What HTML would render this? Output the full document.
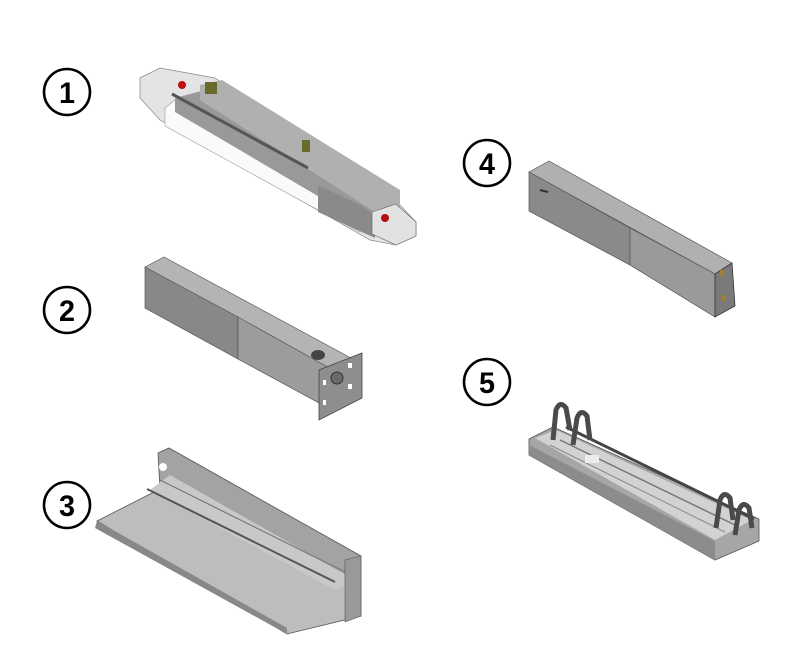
<!DOCTYPE html>
<html><head><style>
html,body{margin:0;padding:0;background:#fff;width:800px;height:650px;overflow:hidden}
svg{display:block}
</style></head><body>
<svg width="800" height="650" viewBox="0 0 800 650">
<g fill="#fff" stroke="#000" stroke-width="2.6">
<circle cx="67" cy="92" r="23"/><circle cx="67" cy="310" r="23"/><circle cx="67" cy="505" r="23"/>
<circle cx="487" cy="163" r="23"/><circle cx="487" cy="382" r="23"/>
</g>
<g font-family="'Liberation Sans Narrow','Liberation Sans',sans-serif" font-size="30" font-weight="bold" text-anchor="middle">
<text x="67" y="103" textLength="16" lengthAdjust="spacingAndGlyphs">1</text>
<text x="67" y="321" textLength="16" lengthAdjust="spacingAndGlyphs">2</text>
<text x="67" y="516" textLength="16" lengthAdjust="spacingAndGlyphs">3</text>
<text x="487" y="174" textLength="16" lengthAdjust="spacingAndGlyphs">4</text>
<text x="487" y="393" textLength="16" lengthAdjust="spacingAndGlyphs">5</text>
</g>

<!-- item1 -->
<polygon points="140,78 160,68 215,78 400,205 416,222 416,236 396,245 370,240 160,120 140,98" fill="#e4e4e4" stroke="#888" stroke-width="0.7"/>
<polygon points="165,108 175,100 360,203 360,232 318,210 165,126" fill="#fafafa" stroke="#999" stroke-width="0.6"/>
<polygon points="175,98 205,90 375,195 375,220 345,212 175,112" fill="#999"/>
<polygon points="200,85 222,80 400,190 400,212 375,212 200,100" fill="#b0b0b0"/>
<polygon points="318,185 360,205 375,215 375,238 318,212" fill="#8a8a8a"/>
<polygon points="372,212 396,204 416,222 416,236 396,245 372,234" fill="#e2e2e2" stroke="#666" stroke-width="0.6"/>
<circle cx="385" cy="218" r="4" fill="#b01010"/>
<circle cx="182" cy="85" r="4" fill="#c01010"/>
<line x1="172" y1="94" x2="308" y2="168" stroke="#555" stroke-width="3"/>
<rect x="205" y="82" width="12" height="12" fill="#6a6a2a"/>
<rect x="302" y="140" width="8" height="12" fill="#6a6a2a"/>

<!-- item2 -->
<polygon points="145,267 164,257 351,358 333,370" fill="#b4b4b4" stroke="#555" stroke-width="0.7"/>
<polygon points="145,267 238,317 238,359 145,308" fill="#888" stroke="#555" stroke-width="0.7"/>
<polygon points="238,317 333,370 319,403 238,359" fill="#9c9c9c" stroke="#555" stroke-width="0.7"/>
<ellipse cx="318" cy="355" rx="7" ry="5" fill="#444"/>
<polygon points="319,370 362,353 362,398 319,420" fill="#8e8e8e" stroke="#444" stroke-width="0.8"/>
<circle cx="337" cy="378" r="6" fill="#6a6a6a" stroke="#333"/>
<g fill="#fff"><rect x="348" y="363" width="4" height="5"/><rect x="348" y="384" width="4" height="5"/><rect x="323" y="380" width="3" height="5"/><rect x="323" y="400" width="3" height="5"/></g>

<!-- item3 -->
<polygon points="97,521 160,489 361,586 361,616 287,634" fill="#bdbdbd" stroke="#555" stroke-width="0.8"/>
<polygon points="158,453 169,448 361,556 361,590 160,489" fill="#a3a3a3" stroke="#555" stroke-width="0.8"/>
<polygon points="150,490 170,475 355,580 335,590" fill="#c8c8c8"/>
<line x1="147" y1="489" x2="335" y2="582" stroke="#555" stroke-width="2"/>
<line x1="160" y1="480" x2="345" y2="572" stroke="#777" stroke-width="1.2"/>
<polygon points="97,521 287,628 287,634 95,528" fill="#888"/>
<polygon points="345,560 361,556 361,616 345,622" fill="#999" stroke="#555" stroke-width="0.6"/>
<circle cx="163" cy="467" r="4" fill="#fff"/>

<!-- item4 -->
<polygon points="529,172 549,161 732,263 715,274" fill="#b0b0b0" stroke="#555" stroke-width="0.7"/>
<polygon points="529,172 630,228 630,265 529,211" fill="#8a8a8a" stroke="#555" stroke-width="0.7"/>
<polygon points="630,228 715,274 715,317 630,265" fill="#9a9a9a" stroke="#555" stroke-width="0.7"/>
<polygon points="715,274 732,263 735,306 715,317" fill="#7a7a7a" stroke="#333" stroke-width="0.8"/>
<rect x="720" y="270" width="4" height="6" fill="#a08030"/><rect x="722" y="295" width="4" height="6" fill="#a08030"/>
<line x1="540" y1="190" x2="548" y2="192" stroke="#333" stroke-width="2"/>

<!-- item5 -->
<polygon points="529,439 553,427 759,519 759,541 715,560 529,455" fill="#a6a6a6" stroke="#555" stroke-width="0.8"/>
<polygon points="535,438 556,430 752,520 715,540" fill="#d2d2d2"/>
<polygon points="529,445 715,541 715,560 529,455" fill="#8c8c8c"/>
<line x1="566" y1="427" x2="754" y2="519" stroke="#444" stroke-width="3"/>
<line x1="560" y1="440" x2="735" y2="525" stroke="#777" stroke-width="1.5"/>
<line x1="550" y1="445" x2="725" y2="532" stroke="#888" stroke-width="1"/>
<g fill="none" stroke="#4a4a4a" stroke-width="5">
<path d="M553,440 L556,410 Q560,400 566,408 L570,430"/>
<path d="M573,445 L577,418 Q581,408 587,416 L590,440"/>
<path d="M716,528 L720,500 Q724,490 730,498 L733,520"/>
<path d="M735,535 L739,510 Q743,500 749,508 L752,528"/>
</g>
<rect x="585" y="455" width="14" height="8" fill="#ececec"/>
</svg>
</body></html>
